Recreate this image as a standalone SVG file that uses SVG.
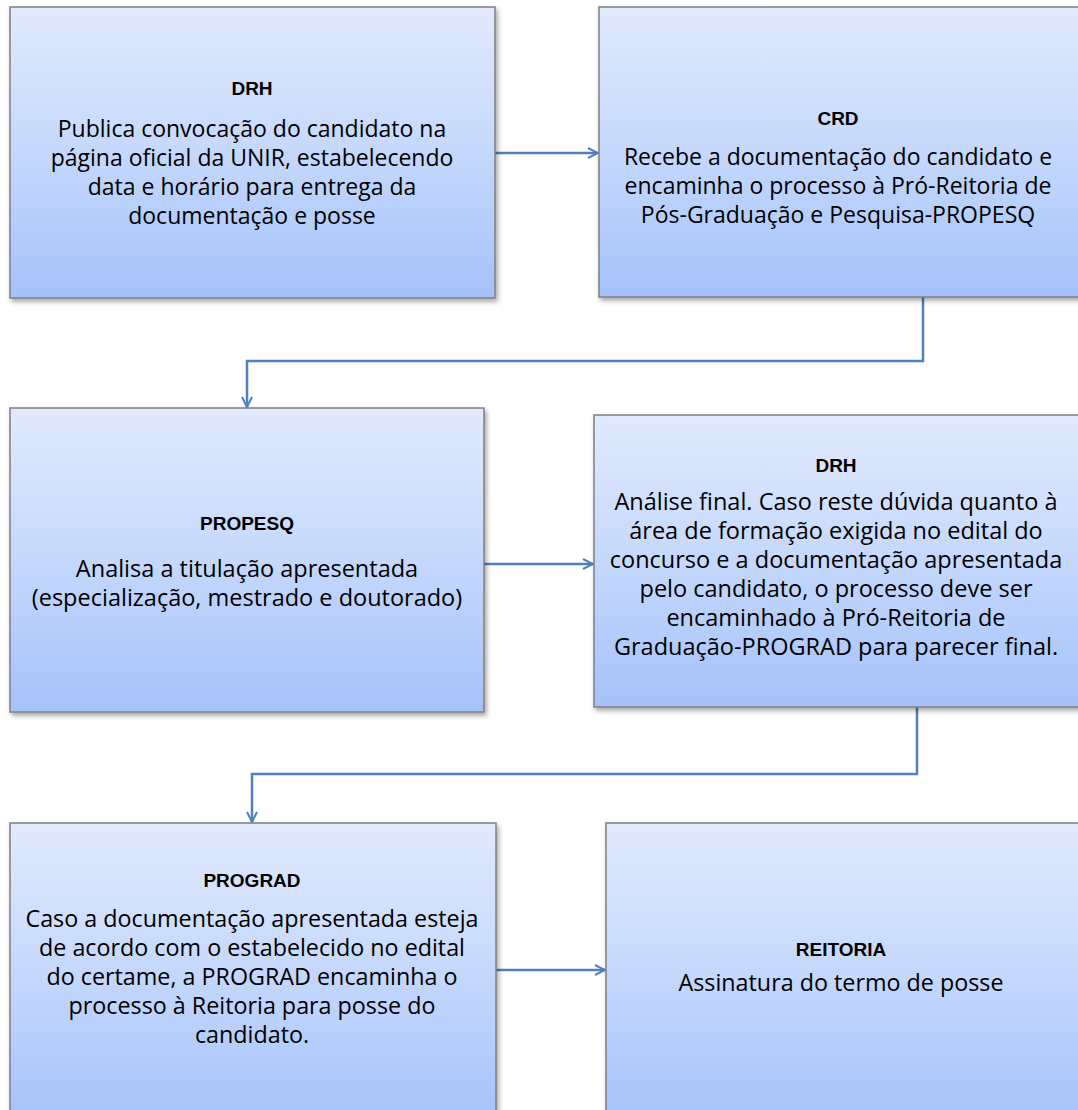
<svg xmlns="http://www.w3.org/2000/svg" width="1078" height="1110" viewBox="0 0 1078 1110">
<defs>
<linearGradient id="g" x1="0" y1="0" x2="0" y2="1">
<stop offset="0" stop-color="#e1eafd"/>
<stop offset="0.5" stop-color="#c5d8fc"/>
<stop offset="1" stop-color="#a4c2fa"/>
</linearGradient>
<filter id="sh" x="-5%" y="-5%" width="115%" height="115%">
<feDropShadow dx="2" dy="3" stdDeviation="2.5" flood-color="#000" flood-opacity="0.35"/>
</filter>
<marker id="ah" viewBox="0 0 12 12" refX="11" refY="6" markerWidth="12" markerHeight="12" markerUnits="userSpaceOnUse" orient="auto">
<path d="M1,1 L11,6 L1,11" fill="none" stroke="#4f81bd" stroke-width="2"/>
</marker>
</defs>
<style>
.box{fill:url(#g);stroke:#7f7f7f;stroke-width:1.5;filter:url(#sh)}
.t{font-family:"Open Sans","Liberation Sans",Arial,sans-serif;font-size:23px;fill:#000;text-anchor:middle}
.l{font-size:23.5px}
.m{font-size:23.3px}
.b{font-family:"Liberation Sans",Arial,sans-serif;font-weight:bold;font-size:19px}
.c{fill:none;stroke:#4f81bd;stroke-width:2.5}
</style>
<rect width="1078" height="1110" fill="#fff"/>
<g id="connectors">
<path class="c" d="M495,153 H598" marker-end="url(#ah)"/>
<path class="c" d="M923,297 V361 H247 V407" marker-end="url(#ah)"/>
<path class="c" d="M484,564 H593" marker-end="url(#ah)"/>
<path class="c" d="M917,707 V774 H252 V822" marker-end="url(#ah)"/>
<path class="c" d="M496,970 H605" marker-end="url(#ah)"/>
</g>
<g id="n1">
<rect class="box" x="10" y="7" width="485" height="291"/>
<text class="t b" x="252" y="95">DRH</text>
<text class="t" x="252" y="137">Publica convocação do candidato na</text>
<text class="t" x="252" y="166">página oficial da UNIR, estabelecendo</text>
<text class="t" x="252" y="195">data e horário para entrega da</text>
<text class="t" x="252" y="224">documentação e posse</text>
</g>
<g id="n2">
<rect class="box" x="599" y="7" width="490" height="290"/>
<text class="t b" x="838" y="125">CRD</text>
<text class="t" x="838" y="165">Recebe a documentação do candidato e</text>
<text class="t" x="838" y="194">encaminha o processo à Pró-Reitoria de</text>
<text class="t" x="838" y="223">Pós-Graduação e Pesquisa-PROPESQ</text>
</g>
<g id="n3">
<rect class="box" x="10" y="408" width="474" height="304"/>
<text class="t b" x="247" y="530">PROPESQ</text>
<text class="t l" x="247" y="577">Analisa a titulação apresentada</text>
<text class="t l" x="247" y="606">(especialização, mestrado e doutorado)</text>
</g>
<g id="n4">
<rect class="box" x="594" y="415" width="495" height="292"/>
<text class="t b" x="836" y="472">DRH</text>
<text class="t l" x="836" y="510">Análise final. Caso reste dúvida quanto à</text>
<text class="t l" x="836" y="539">área de formação exigida no edital do</text>
<text class="t l" x="836" y="568">concurso e a documentação apresentada</text>
<text class="t l" x="836" y="597">pelo candidato, o processo deve ser</text>
<text class="t l" x="836" y="626">encaminhado à Pró-Reitoria de</text>
<text class="t l" x="836" y="655">Graduação-PROGRAD para parecer final.</text>
</g>
<g id="n5">
<rect class="box" x="10" y="823" width="486" height="300"/>
<text class="t b" x="252" y="887">PROGRAD</text>
<text class="t m" x="252" y="927">Caso a documentação apresentada esteja</text>
<text class="t m" x="252" y="956">de acordo com o estabelecido no edital</text>
<text class="t m" x="252" y="985">do certame, a PROGRAD encaminha o</text>
<text class="t m" x="252" y="1014">processo à Reitoria para posse do</text>
<text class="t m" x="252" y="1043">candidato.</text>
</g>
<g id="n6">
<rect class="box" x="606" y="823" width="483" height="300"/>
<text class="t b" x="841" y="956">REITORIA</text>
<text class="t m" x="841" y="991">Assinatura do termo de posse</text>
</g>
</svg>
